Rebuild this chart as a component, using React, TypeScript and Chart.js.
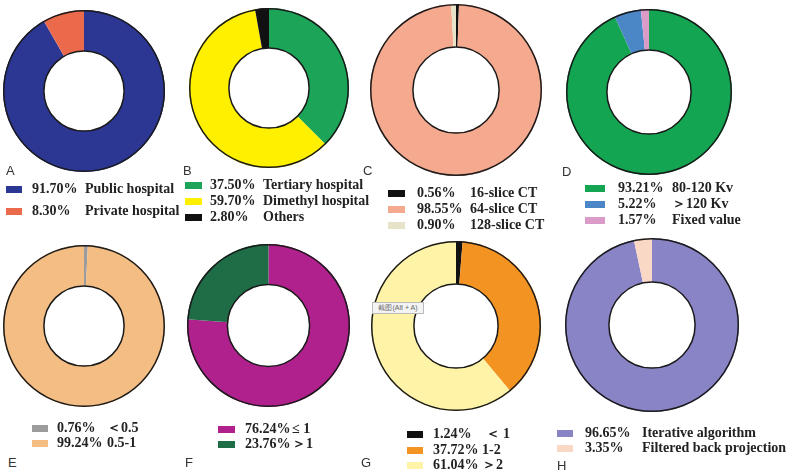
import React, { useEffect, useRef } from "react";
import { Chart, registerables } from "chart.js";

Chart.register(...registerables);

// ---------- DATA ----------
const labelsA = ["Public hospital", "Private hospital"];
const valuesA = [91.7, 8.3];
const colorsA = ["#2C3794", "#EA6A4B"];

const labelsB = ["Tertiary hospital", "Dimethyl hospital", "Others"];
const valuesB = [37.5, 59.7, 2.8];
const colorsB = ["#1CA558", "#FFF000", "#111111"];

const labelsC = ["16-slice CT", "64-slice CT", "128-slice CT"];
const valuesC = [0.56, 98.55, 0.9];
const colorsC = ["#111111", "#F5AA90", "#E7E3C8"];

const labelsD = ["80-120 Kv", "＞120 Kv", "Fixed value"];
const valuesD = [93.21, 5.22, 1.57];
const colorsD = ["#13A552", "#4B87C6", "#DB9BC9"];

const labelsE = ["＜0.5", "0.5-1"];
const valuesE = [0.76, 99.24];
const colorsE = ["#9C9C9C", "#F3BD84"];

const labelsF = ["≤ 1", "＞1"];
const valuesF = [76.24, 23.76];
const colorsF = ["#B0218E", "#1F6D47"];

const labelsG = [" ＜ 1", "1-2", "＞2"];
const valuesG = [1.24, 37.72, 61.04];
const colorsG = ["#111111", "#F39322", "#FEF3A6"];

const labelsH = ["Iterative algorithm", "Filtered back projection"];
const valuesH = [96.65, 3.35];
const colorsH = ["#8884C5", "#FAD8C6"];

const panelLetters = ["A", "B", "C", "D", "E", "F", "G", "H"];

// ---------- LAYOUT ----------
type Layout = {
  cx: number; cy: number; R: number; r: number;
  letterX: number; letterY: number;
  swX: number; swW: number; pctX: number; labX: number; rows: number[];
};

const layouts: Layout[] = [
  { cx: 84, cy: 91, R: 81, r: 40, letterX: 6, letterY: 170, swX: 6, swW: 16, pctX: 32, labX: 85, rows: [189, 211] },
  { cx: 269, cy: 88, R: 80, r: 40, letterX: 183, letterY: 170, swX: 185, swW: 17, pctX: 210, labX: 263, rows: [185, 201, 217] },
  { cx: 456, cy: 90, R: 86, r: 43, letterX: 363, letterY: 170, swX: 388, swW: 17, pctX: 417, labX: 470, rows: [193, 209, 225] },
  { cx: 649, cy: 92, R: 83, r: 42, letterX: 562, letterY: 171, swX: 585, swW: 20, pctX: 618, labX: 672, rows: [188, 204, 220] },
  { cx: 84, cy: 326, R: 81, r: 40, letterX: 8, letterY: 462, swX: 32, swW: 16, pctX: 57, labX: 107, rows: [428, 443] },
  { cx: 268.5, cy: 325.5, R: 81.5, r: 41, letterX: 185, letterY: 462, swX: 218, swW: 17, pctX: 245, labX: 292, rows: [429, 444] },
  { cx: 455.5, cy: 326, R: 85, r: 42, letterX: 361, letterY: 462, swX: 407, swW: 16, pctX: 433, labX: 482, rows: [434, 450, 465] },
  { cx: 652, cy: 325, R: 87, r: 43, letterX: 557, letterY: 465, swX: 557, swW: 16, pctX: 585, labX: 642, rows: [433, 448] },
];

const panels = [
  { labels: labelsA, values: valuesA, colors: colorsA },
  { labels: labelsB, values: valuesB, colors: colorsB },
  { labels: labelsC, values: valuesC, colors: colorsC },
  { labels: labelsD, values: valuesD, colors: colorsD },
  { labels: labelsE, values: valuesE, colors: colorsE },
  { labels: labelsF, values: valuesF, colors: colorsF },
  { labels: labelsG, values: valuesG, colors: colorsG },
  { labels: labelsH, values: valuesH, colors: colorsH },
];

const outlinePlugin = {
  id: "ringOutline",
  afterDatasetsDraw(chart: any) {
    const meta = chart.getDatasetMeta(0);
    const arc = meta.data[0];
    if (!arc) return;
    const { x, y, outerRadius, innerRadius } = arc.getProps(["x", "y", "outerRadius", "innerRadius"], true);
    const ctx = chart.ctx;
    ctx.save();
    ctx.strokeStyle = "#1a1a1a";
    ctx.lineWidth = 1.5;
    ctx.beginPath();
    ctx.arc(x, y, outerRadius - 0.75, 0, Math.PI * 2);
    ctx.stroke();
    ctx.beginPath();
    ctx.arc(x, y, innerRadius + 0.1, 0, Math.PI * 2);
    ctx.stroke();
    ctx.restore();
  },
};

function Donut({ values, colors, labels, L }: { values: number[]; colors: string[]; labels: string[]; L: Layout }) {
  const ref = useRef<HTMLCanvasElement | null>(null);
  useEffect(() => {
    if (!ref.current) return;
    const chart = new Chart(ref.current, {
      type: "doughnut",
      data: {
        labels,
        datasets: [{ data: values, backgroundColor: colors, borderWidth: 0, hoverOffset: 0 }],
      },
      options: {
        responsive: false,
        maintainAspectRatio: false,
        animation: false,
        cutout: `${(L.r / L.R) * 100}%`,
        layout: { padding: 0 },
        events: [],
        plugins: { legend: { display: false }, tooltip: { enabled: false } },
      },
      plugins: [outlinePlugin],
    });
    return () => chart.destroy();
  }, []);
  const size = Math.round(L.R * 2);
  return (
    <canvas
      ref={ref}
      width={size}
      height={size}
      style={{ position: "absolute", left: L.cx - L.R, top: L.cy - L.R, width: size, height: size }}
    />
  );
}

const serif = '"Liberation Serif", "Times New Roman", serif';
const sans = '"Liberation Sans", Arial, sans-serif';

export default function App() {
  return (
    <div style={{ position: "fixed", left: 0, top: 0, width: 798, height: 476, background: "#fff", overflow: "hidden" }}>
      {panels.map((p, i) => {
        const L = layouts[i];
        return (
          <React.Fragment key={i}>
            <Donut values={p.values} colors={p.colors} labels={p.labels} L={L} />
            <div style={{ position: "absolute", left: L.letterX, top: L.letterY - 6.5, font: `13px ${sans}`, lineHeight: "13px", color: "#333" }}>
              {panelLetters[i]}
            </div>
            {p.values.map((v, j) => (
              <React.Fragment key={j}>
                <div style={{ position: "absolute", left: L.swX, top: L.rows[j] - 3.5, width: L.swW, height: 7, background: p.colors[j] }} />
                <div style={{ position: "absolute", left: L.pctX, top: L.rows[j] - 7, font: `bold 14px ${serif}`, lineHeight: "14px", color: "#222", whiteSpace: "pre" }}>
                  {`${v.toFixed(2)}%`}
                </div>
                <div style={{ position: "absolute", left: L.labX, top: L.rows[j] - 7, font: `bold 14px ${serif}`, lineHeight: "14px", color: "#222", whiteSpace: "pre" }}>
                  {p.labels[j]}
                </div>
              </React.Fragment>
            ))}
          </React.Fragment>
        );
      })}
      <div style={{ position: "absolute", left: 372, top: 302, width: 50, height: 10, border: "1px solid #bbb", background: "#f4f4f4", font: `7px ${sans}`, lineHeight: "10px", color: "#666", textAlign: "center", whiteSpace: "nowrap" }}>
        截图(Alt + A)
      </div>
    </div>
  );
}
